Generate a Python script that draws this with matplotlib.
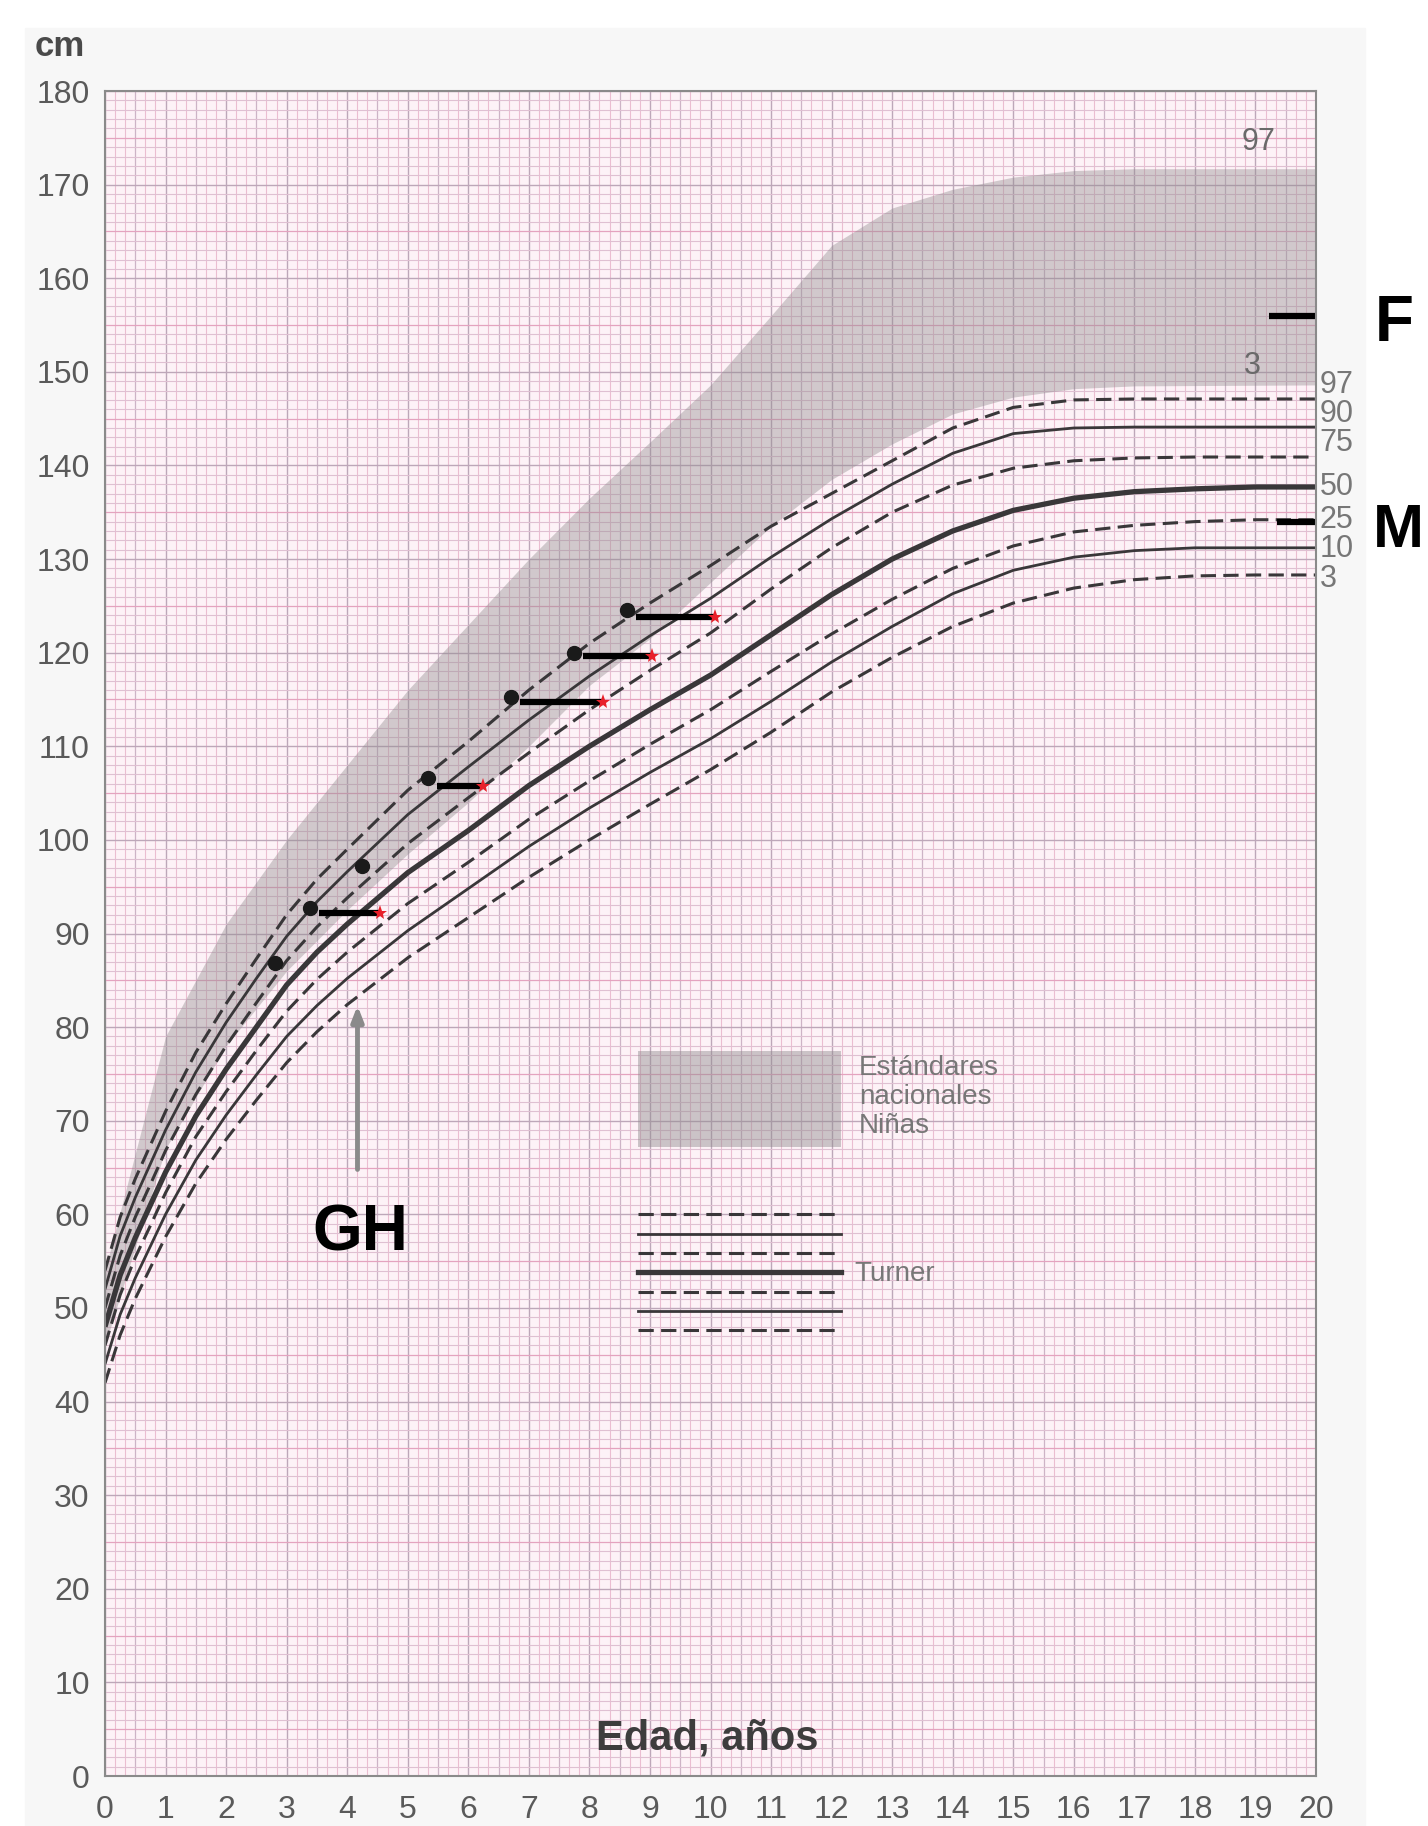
import numpy as np
import matplotlib.pyplot as plt
from matplotlib.patches import Rectangle

plt.rcParams['font.family'] = ['Liberation Sans', 'DejaVu Sans']

# Turner percentiles (cm) by age (years)
ages = [0, 0.25, 0.5, 0.75, 1, 1.5, 2, 2.5, 3, 3.5, 4, 5, 6, 7, 8, 9, 10,
        11, 12, 13, 14, 15, 16, 17, 18, 19, 20]
p97 = [54.0, 59.7, 63.8, 67.4, 71.0, 77.3, 82.5, 87.3, 92.0, 95.8, 99.0, 105.3, 110.5,
       116.0, 121.0, 125.3, 129.3, 133.5, 137.0, 140.5, 144.0, 146.2, 147.0, 147.1,
       147.1, 147.1, 147.1]
p90 = [52.0, 57.7, 61.8, 65.4, 69.0, 75.2, 80.5, 85.2, 89.7, 93.4, 96.6, 102.7, 107.8,
       112.8, 117.5, 121.8, 125.8, 130.2, 134.3, 138.0, 141.3, 143.4, 144.0, 144.1,
       144.1, 144.1, 144.1]
p75 = [50.0, 55.6, 59.7, 63.2, 66.8, 72.8, 78.0, 82.6, 87.1, 90.7, 93.8, 99.6, 104.5,
       109.3, 113.9, 118.1, 122.1, 126.8, 131.2, 135.0, 137.9, 139.7, 140.5, 140.8,
       140.9, 140.9, 140.9]
p50 = [48.0, 53.5, 57.5, 61.0, 64.5, 70.5, 75.5, 80.0, 84.5, 88.0, 91.0, 96.5, 101.0,
       105.8, 110.0, 113.9, 117.6, 121.9, 126.2, 130.0, 133.0, 135.2, 136.5, 137.2,
       137.5, 137.7, 137.7]
p25 = [46.0, 51.4, 55.4, 58.8, 62.3, 68.3, 73.1, 77.5, 81.7, 85.1, 88.0, 93.2, 97.6,
       102.2, 106.3, 110.2, 113.9, 118.0, 122.0, 125.7, 129.0, 131.4, 132.9, 133.6,
       134.0, 134.2, 134.2]
p10 = [44.0, 49.3, 53.2, 56.6, 60.0, 65.8, 70.6, 74.9, 79.0, 82.3, 85.2, 90.3, 94.8,
       99.3, 103.4, 107.2, 110.8, 114.8, 119.0, 122.8, 126.3, 128.8, 130.2, 130.9,
       131.2, 131.2, 131.2]
p3 = [42.0, 47.1, 51.0, 54.3, 57.6, 63.3, 68.0, 72.2, 76.2, 79.5, 82.4, 87.4, 91.7,
      96.0, 100.0, 103.8, 107.5, 111.5, 115.8, 119.5, 122.8, 125.3, 126.9, 127.8,
      128.2, 128.3, 128.3]
pct_labels = ['97', '90', '75', '50', '25', '10', '3']
pct_label_y = [148.6, 145.5, 142.4, 137.7, 134.2, 131.1, 127.9]

# national standards for girls (shaded band, 3rd - 97th)
band_ages = [0, 1, 2, 3, 4, 5, 6, 7, 8, 9, 10, 11, 12, 13, 14, 15, 16, 17, 20]
band_low = [46, 67, 78, 86, 92.5, 98.5, 104, 110, 116.5, 121.5, 127.5, 133.5, 138.5,
            142.3, 145.5, 147.3, 148.2, 148.5, 148.6]
band_high = [54, 79, 91, 100, 108, 116, 123, 130, 136.5, 142.5, 148.6, 156, 163.5,
             167.5, 169.5, 170.8, 171.5, 171.7, 171.7]

# patient: chronological age (dots) and bone age (stars)
dot_age = [2.81, 3.38, 4.25, 5.33, 6.71, 7.75, 8.62]
dot_h = [86.8, 92.7, 97.2, 106.6, 115.3, 120.0, 124.6]
bone_age = [None, 4.54, None, 6.25, 8.23, 9.04, 10.08]
bone_h = [None, 92.2, None, 105.8, 114.7, 119.6, 123.8]

father_h = 156.0
mother_h = 134.0

fig = plt.figure(figsize=(14.28, 18.26), dpi=100)
fig.patch.set_facecolor('white')
fig.patches.append(Rectangle((25 / 1428, 0), 1340 / 1428, 1 - 28 / 1826,
                             transform=fig.transFigure, color='#f7f7f7', zorder=-10))
ax = fig.add_axes([105 / 1428, 50 / 1826, 1211 / 1428, 1685 / 1826])
ax.set_zorder(1)
ax.set_facecolor('#fdf2f7')
ax.set_xlim(0, 20)
ax.set_ylim(0, 180)

# millimetre-like paper
for x in np.arange(0, 20.01, 1 / 6):
    r = round(x * 6)
    if r % 6 == 0:
        c, lw = '#bda7b9', 1.0
    elif r % 3 == 0:
        c, lw = '#cdb3c6', 0.9
    else:
        c, lw = '#ebbdd1', 0.8
    ax.axvline(x, color=c, lw=lw, zorder=1)
for y in range(0, 181):
    if y % 10 == 0:
        c, lw = '#bda7b9', 1.0
    elif y % 5 == 0:
        c, lw = '#e4a3bf', 0.9
    else:
        c, lw = '#dfc0d2', 0.8
    ax.axhline(y, color=c, lw=lw, zorder=1)

ax.fill_between(band_ages, band_low, band_high, color='#8f8b8d', alpha=0.4,
                lw=0, zorder=2)
ax.text(19.05, 174.6, '97', fontsize=22, color='#6a6a6a', ha='center', va='center', zorder=3)
ax.text(18.95, 150.6, '3', fontsize=22, color='#6a6a6a', ha='center', va='center', zorder=3)

line_col = '#393739'
dash = (5, 2.4)
curves = [p97, p90, p75, p50, p25, p10, p3]
styles = [('--', 2.2), ('-', 2.0), ('--', 2.2), ('-', 3.8), ('--', 2.2), ('-', 2.0), ('--', 2.2)]
for vals, (ls, lw) in zip(curves, styles):
    ln, = ax.plot(ages, vals, color=line_col, lw=lw, ls=ls, zorder=4,
                  solid_capstyle='butt')
    if ls == '--':
        ln.set_dashes(dash)
for lab, yy in zip(pct_labels, pct_label_y):
    ax.text(20.06, yy, lab, fontsize=22, color='#777777', ha='left', va='center',
            clip_on=False)

# legend drawn inside the chart
ax.add_patch(Rectangle((8.81, 67.2), 3.34, 10.2, color='#8f8b8d', alpha=0.45, lw=0, zorder=3))
for i, t in enumerate(['Estándares', 'nacionales', 'Niñas']):
    ax.text(12.45, 75.6 - i * 3.1, t, fontsize=20, color='#777777', va='center', zorder=5)
leg_y = [60.0, 57.9, 55.9, 53.8, 51.7, 49.7, 47.6]
for yy, (ls, lw) in zip(leg_y, styles):
    ln, = ax.plot([8.81, 12.15], [yy, yy], color=line_col, lw=lw, ls=ls, zorder=4)
    if ls == '--':
        ln.set_dashes(dash)
ax.text(12.37, 53.6, 'Turner', fontsize=20, color='#777777', va='center', zorder=5)

# patient data
for a, h, ba, bh in zip(dot_age, dot_h, bone_age, bone_h):
    if ba is not None:
        ax.plot([a + 0.15, ba], [bh, bh], color='black', lw=4.5, zorder=6,
                solid_capstyle='butt')
        ax.plot(ba, bh, marker='*', color='#e8202a', ms=11, zorder=7, mew=0)
    ax.plot(a, h, 'o', color='#1a1a1a', ms=10, zorder=7)

# parents' heights
ax.plot([19.23, 20], [father_h, father_h], color='black', lw=4.5, zorder=6,
        solid_capstyle='butt')
ax.plot([19.35, 20], [mother_h, mother_h], color='black', lw=4.5, zorder=6,
        solid_capstyle='butt')
ax.text(21.3, father_h - 0.9, 'F', fontsize=46, fontweight='bold', color='black',
        ha='center', va='center', clip_on=False)
ax.text(21.36, mother_h - 1.1, 'M', fontsize=44, fontweight='bold', color='black',
        ha='center', va='center', clip_on=False)

# GH start
ax.annotate('', xy=(4.17, 82.6), xytext=(4.17, 64.5),
            arrowprops=dict(arrowstyle='-|>,head_length=0.9,head_width=0.35',
                            color='#8a8a8a', lw=3.5), zorder=6)
ax.text(4.22, 58.0, 'GH', fontsize=46, fontweight='bold', color='black',
        ha='center', va='center', zorder=6)

ax.text(9.95, 4.0, 'Edad, años', fontsize=30, fontweight='bold', color='#3d3d3d',
        ha='center', va='center', zorder=6)

ax.set_xticks(range(0, 21))
ax.set_yticks(range(0, 181, 10))
ax.tick_params(length=0, labelsize=23, labelcolor='#5a5a5a')
ax.tick_params(axis='x', pad=14)
ax.tick_params(axis='y', pad=11)
for s in ax.spines.values():
    s.set_color('#8a8a8a')
    s.set_linewidth(1.5)
    s.set_zorder(8)
fig.text(60 / 1428, 1 - 47 / 1826, 'cm', fontsize=25, fontweight='bold',
         color='#4a4a4a', ha='center', va='center')

plt.savefig('out.png', dpi=100)
